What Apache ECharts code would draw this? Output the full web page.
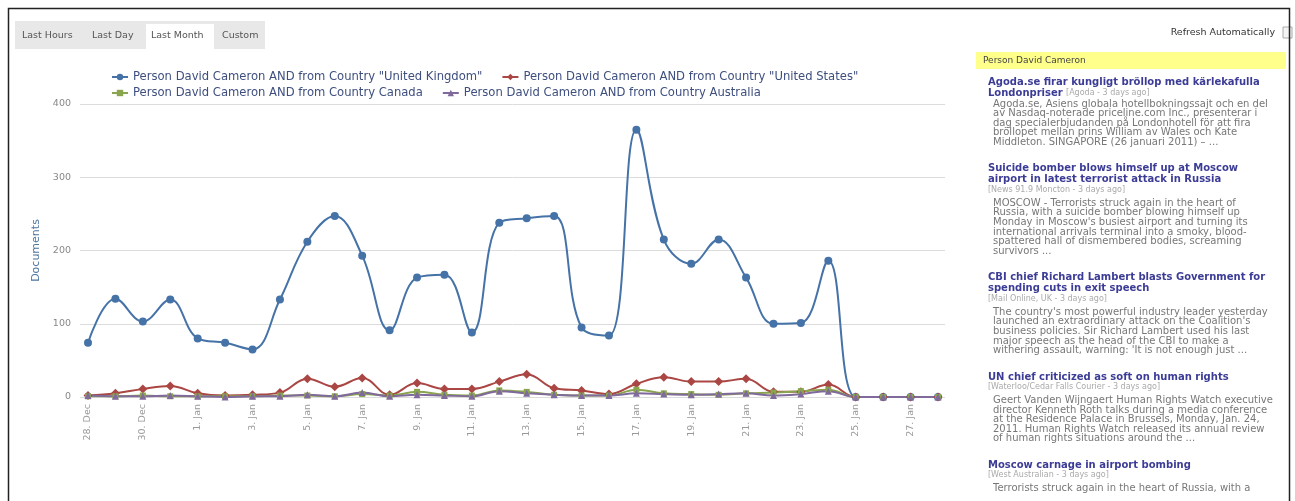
<!DOCTYPE html>
<html>
<head>
<meta charset="utf-8">
<script src="https://cdn.jsdelivr.net/npm/echarts@6/dist/echarts.min.js"></script>
<style>
  html, body { margin: 0; padding: 0; background: #fff; }
  #chart { width: 1295px; height: 501px; }
</style>
</head>
<body>
<div id="chart"></div>
<script>
// dates on the x axis
const categories = ['28. Dec', '29. Dec', '30. Dec', '31. Dec',
  '1. Jan', '2. Jan', '3. Jan', '4. Jan', '5. Jan', '6. Jan', '7. Jan', '8. Jan', '9. Jan', '10. Jan',
  '11. Jan', '12. Jan', '13. Jan', '14. Jan', '15. Jan', '16. Jan', '17. Jan', '18. Jan', '19. Jan',
  '20. Jan', '21. Jan', '22. Jan', '23. Jan', '24. Jan', '25. Jan', '26. Jan', '27. Jan', '28. Jan'];

// documents per day
const ukValues = [74, 134, 103, 133, 80, 74, 65, 133, 212, 247, 193, 91, 163, 167, 88,
  238, 244, 247, 95, 84, 365, 215, 182, 215, 163, 100, 101, 186, 0, 0, 0, 0];
const usValues = [2, 5, 11, 15, 5, 2, 3, 6, 25, 14, 26, 3, 19, 11, 11,
  21, 31, 12, 9, 4, 18, 27, 21, 21, 25, 7, 7, 17, 0, 0, 0, 0];
const caValues = [1, 1, 2, 1, 1, 1, 1, 2, 2, 1, 4, 2, 7, 3, 2,
  9, 7, 3, 2, 2, 10, 5, 4, 3, 5, 6, 8, 10, 0, 0, 0, 0];
const auValues = [2, 1, 1, 2, 1, 0, 1, 1, 3, 1, 6, 1, 3, 2, 1,
  8, 5, 3, 2, 2, 5, 4, 3, 4, 5, 2, 4, 8, 0, 0, 0, 0];

const seriesNames = [
  'Person David Cameron AND from Country "United Kingdom"',
  'Person David Cameron AND from Country "United States"',
  'Person David Cameron AND from Country Canada',
  'Person David Cameron AND from Country Australia'
];

const tabs = ['Last Hours', 'Last Day', 'Last Month', 'Custom'];

// news panel on the right
const news = [
  {title: ['Agoda.se firar kungligt bröllop med kärlekafulla', 'Londonpriser'], source: '[Agoda - 3 days ago]', inline: true,
   text: ['Agoda.se, Asiens globala hotellbokningssajt och en del', 'av Nasdaq-noterade priceline.com Inc., presenterar i',
          'dag specialerbjudanden på Londonhotell för att fira', 'bröllopet mellan prins William av Wales och Kate',
          'Middleton. SINGAPORE (26 januari 2011) – ...']},
  {title: ['Suicide bomber blows himself up at Moscow', 'airport in latest terrorist attack in Russia'], source: '[News 91.9 Moncton - 3 days ago]',
   text: ['MOSCOW - Terrorists struck again in the heart of', 'Russia, with a suicide bomber blowing himself up',
          "Monday in Moscow's busiest airport and turning its", 'international arrivals terminal into a smoky, blood-',
          'spattered hall of dismembered bodies, screaming', 'survivors ...']},
  {title: ['CBI chief Richard Lambert blasts Government for', 'spending cuts in exit speech'], source: '[Mail Online, UK - 3 days ago]',
   text: ["The country's most powerful industry leader yesterday", "launched an extraordinary attack on the Coalition's",
          'business policies. Sir Richard Lambert used his last', 'major speech as the head of the CBI to make a',
          "withering assault, warning: 'It is not enough just ..."]},
  {title: ['UN chief criticized as soft on human rights'], source: '[Waterloo/Cedar Falls Courier - 3 days ago]',
   text: ['Geert Vanden Wijngaert Human Rights Watch executive', 'director Kenneth Roth talks during a media conference',
          'at the Residence Palace in Brussels, Monday, Jan. 24,', '2011. Human Rights Watch released its annual review',
          'of human rights situations around the ...']},
  {title: ['Moscow carnage in airport bombing'], source: '[West Australian - 3 days ago]',
   text: ['Terrorists struck again in the heart of Russia, with a']}
];

const colors = ['#4572A7', '#AA4643', '#89A54E', '#80699B'];
const chartFont = 'DejaVu Sans';

// build side panel + tabs as graphic elements
let graphics = [];
graphics.push({type: 'rect', shape: {x: 8.5, y: 8.5, width: 1281, height: 520}, style: {fill: 'none', stroke: '#222', lineWidth: 1.5}, z: 100});
graphics.push({type: 'rect', shape: {x: 15, y: 21, width: 250, height: 28}, style: {fill: '#e8e8e8'}});
let tabX = [22, 92, 151, 222];
graphics.push({type: 'rect', shape: {x: 146, y: 24, width: 68, height: 25}, style: {fill: '#fff'}});
tabs.forEach(function (t, i) {
    graphics.push({type: 'text', x: tabX[i], y: 36,
        style: {text: t, fill: '#555', font: '9.5px ' + chartFont, verticalAlign: 'middle'}});
});
graphics.push({type: 'text', x: 1275, y: 33,
    style: {text: 'Refresh Automatically', fill: '#333', font: '9.5px ' + chartFont, align: 'right', verticalAlign: 'middle'}});
graphics.push({type: 'rect', shape: {x: 1283, y: 27, width: 9, height: 11}, style: {fill: '#f4f4f4', stroke: '#aaa'}});
graphics.push({type: 'rect', shape: {x: 976, y: 52, width: 310, height: 17}, style: {fill: '#ffff8c'}});
graphics.push({type: 'text', x: 983, y: 60.5,
    style: {text: 'Person David Cameron', fill: '#444', font: '9px ' + chartFont, verticalAlign: 'middle'}});

let y = 82;
news.forEach(function (n) {
    n.title.forEach(function (line, i) {
        let last = i === n.title.length - 1;
        if (last && n.inline) {
            graphics.push({type: 'text', x: 988, y: y, style: {
                text: '{t|' + line + '} {s|' + n.source + '}', verticalAlign: 'middle',
                rich: {t: {fill: '#3c3c96', font: 'bold 10px ' + chartFont},
                       s: {fill: '#aaa', font: '8px ' + chartFont}}}});
        } else {
            graphics.push({type: 'text', x: 988, y: y, style: {
                text: line, fill: '#3c3c96', font: 'bold 10px ' + chartFont, verticalAlign: 'middle'}});
        }
        y += 11;
    });
    if (!n.inline) {
        graphics.push({type: 'text', x: 988, y: y - 1, style: {
            text: n.source, fill: '#aaa', font: '8px ' + chartFont, verticalAlign: 'middle'}});
        y += 12.5;
    }
    n.text.forEach(function (line) {
        graphics.push({type: 'text', x: 993, y: y, style: {
            text: line, fill: '#777', font: '10px ' + chartFont, verticalAlign: 'middle'}});
        y += 9.6;
    });
    y += 16.8;
});

const symbols = ['circle', 'diamond', 'rect', 'triangle'];
const symbolSizes = [8, 9, 6, 7];
const values = [ukValues, usValues, caValues, auValues];

let option = {
    animation: false,
    textStyle: {fontFamily: chartFont},
    color: colors,
    graphic: graphics,
    legend: [{
        left: 106, top: 66, itemGap: 19, itemWidth: 16, itemHeight: 8,
        data: [seriesNames[0], seriesNames[1]],
        textStyle: {color: '#3E4F7F', fontSize: 11.6, fontFamily: chartFont}
    }, {
        left: 106, top: 82, itemGap: 19, itemWidth: 16, itemHeight: 8,
        data: [seriesNames[2], seriesNames[3]],
        textStyle: {color: '#3E4F7F', fontSize: 11.6, fontFamily: chartFont}
    }],
    grid: [
        {left: 80, right: 350, top: 104, bottom: 104},   // frame for the gridlines
        {left: 88, right: 357, top: 104, bottom: 104}    // data
    ],
    xAxis: [
        {type: 'value', gridIndex: 0, show: false, min: 0, max: 1},
        {type: 'category', gridIndex: 1, data: categories, boundaryGap: false,
         axisLine: {show: false}, axisTick: {show: false},
         axisLabel: {rotate: 90, interval: 1, color: '#999', fontSize: 9.5, margin: 7, fontFamily: chartFont}}
    ],
    yAxis: [
        {type: 'value', gridIndex: 0, min: 0, max: 400, interval: 100,
         name: 'Documents', nameLocation: 'middle', nameGap: 37,
         nameTextStyle: {color: '#4d759e', fontSize: 11, fontFamily: chartFont},
         axisLine: {show: false}, axisTick: {show: false},
         axisLabel: {color: '#888', fontSize: 9.5, margin: 9},
         splitLine: {lineStyle: {color: '#dcdcdc', width: 1}}},
        {type: 'value', gridIndex: 1, min: 0, max: 400, interval: 100, show: false, splitLine: {show: false}}
    ],
    series: values.map(function (v, i) {
        return {
            name: seriesNames[i], type: 'line', xAxisIndex: 1, yAxisIndex: 1,
            data: v, smooth: 0.4,
            symbol: symbols[i], symbolSize: symbolSizes[i], showSymbol: true,
            lineStyle: {width: 2, color: colors[i]},
            itemStyle: {color: colors[i]}
        };
    })
};

var myChart = echarts.init(document.getElementById('chart'));
myChart.setOption(option);
window.onresize = function () {
    myChart.resize();
};
</script>
</body>
</html>
